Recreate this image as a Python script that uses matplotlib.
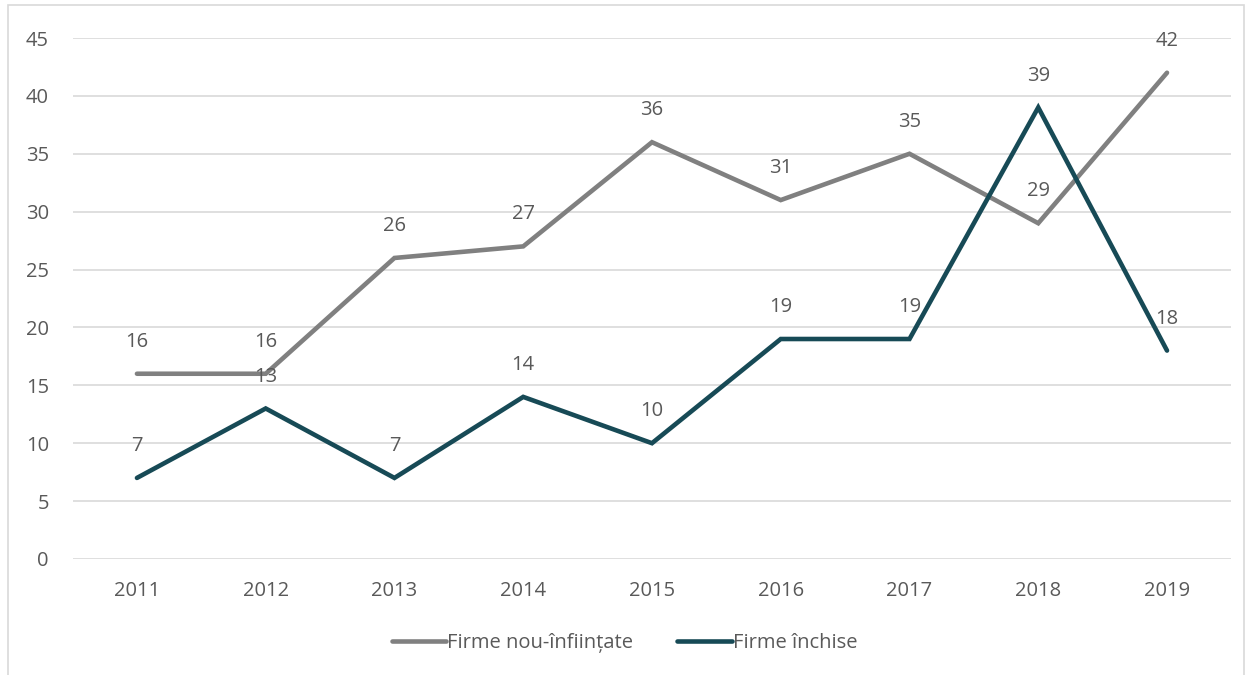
import matplotlib.pyplot as plt
from matplotlib.patches import Rectangle

years = ["2011", "2012", "2013", "2014", "2015", "2016", "2017", "2018", "2019"]
firme_noi = [16, 16, 26, 27, 36, 31, 35, 29, 42]
firme_inchise = [7, 13, 7, 14, 10, 19, 19, 39, 18]
yticks = [0, 5, 10, 15, 20, 25, 30, 35, 40, 45]

plt.rcParams['font.family'] = ['Open Sans', 'DejaVu Sans']
txt = "#595959"
fs = 14.5

fig = plt.figure(figsize=(12.49, 6.75), dpi=100)
ax = fig.add_axes([0.0581, 0.1719, 0.9278, 0.7718])

x = range(len(years))
ax.plot(x, firme_noi, color="#808080", lw=3.3, solid_capstyle="round",
        solid_joinstyle="miter", label="Firme nou-înființate", zorder=3)
ax.plot(x, firme_inchise, color="#174A56", lw=3.3, solid_capstyle="round",
        solid_joinstyle="miter", label="Firme închise", zorder=3)

for xi, v in zip(x, firme_noi):
    ax.annotate(str(v), (xi, v), xytext=(0, 23), textcoords="offset points",
                ha="center", va="center", fontsize=fs, color=txt, zorder=4)
for xi, v in zip(x, firme_inchise):
    ax.annotate(str(v), (xi, v), xytext=(0, 23), textcoords="offset points",
                ha="center", va="center", fontsize=fs, color=txt, zorder=4)

ax.set_xlim(-0.5, len(years) - 0.5)
ax.set_ylim(0, 45)
ax.set_yticks(yticks)
ax.set_xticks(list(x))
ax.set_xticklabels(years)
ax.tick_params(axis="both", length=0, labelsize=fs, colors=txt)
ax.tick_params(axis="y", pad=17)
ax.tick_params(axis="x", pad=16)
ax.grid(axis="y", color="#d9d9d9", lw=1.2)
ax.set_axisbelow(True)
for s in ax.spines.values():
    s.set_visible(False)

leg = fig.legend(loc="center", bbox_to_anchor=(0.5, 0.047), ncol=2, frameon=False,
                 fontsize=fs, handlelength=2.7, handletextpad=0.05, columnspacing=2.2)
for t in leg.get_texts():
    t.set_color(txt)

fig.patches.append(Rectangle((8 / 1249, -0.01), 1236 / 1249, 1 - 5 / 675 + 0.01,
                             transform=fig.transFigure, fill=False,
                             edgecolor="#d9d9d9", lw=1.2))

fig.savefig("out.png", dpi=100)
